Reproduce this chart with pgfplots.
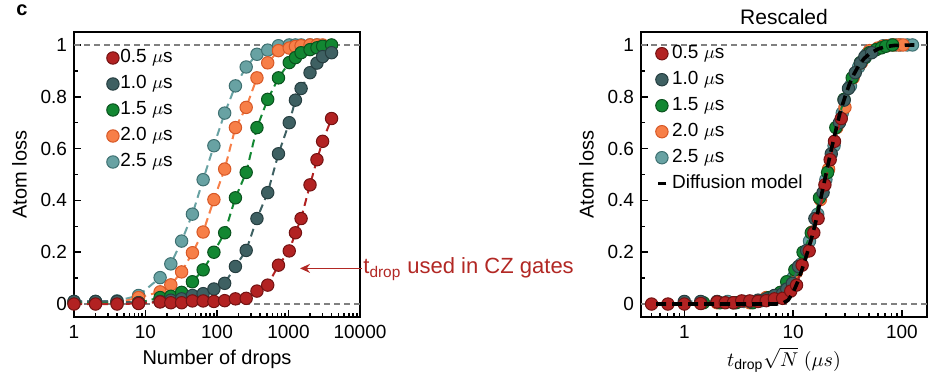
\documentclass[border=0pt]{standalone}
\usepackage{fontspec}
\setmainfont{Liberation Sans}
\usepackage{pgfplots}
\usepackage{pgfplotstable}
\pgfplotsset{compat=1.18}
\usetikzlibrary{arrows.meta}

\definecolor{cR}{RGB}{178,34,34}
\definecolor{cRe}{RGB}{115,18,18}
\definecolor{cD}{RGB}{62,96,98}
\definecolor{cDe}{RGB}{38,62,64}
\definecolor{cG}{RGB}{18,135,50}
\definecolor{cGe}{RGB}{10,82,30}
\definecolor{cO}{RGB}{247,127,72}
\definecolor{cOe}{RGB}{215,88,38}
\definecolor{cT}{RGB}{104,162,163}
\definecolor{cTe}{RGB}{62,112,113}
\definecolor{ann}{RGB}{178,40,36}
\definecolor{refgray}{RGB}{128,128,128}

% ---------- left panel data: N, atom loss ----------
\pgfplotstableread{
N v
1 0.0
2 0.0
4 0.0
8 0.002
16 0.008
22.6 0.005
32 0.005
45.3 0.012
64 0.012
90.5 0.01
128 0.013
181 0.02
256 0.022
362 0.05
512 0.073
724 0.15
1024 0.205
1250 0.275
1500 0.33
2000 0.46
2500 0.557
3000 0.628
4000 0.716
}\redL
\pgfplotstableread{
N v
1 0.01
2 0.01
4 0.01
8 0.005
16 0.01
22.6 0.015
32 0.02
45.3 0.033
64 0.04
90.5 0.058
128 0.08
181 0.145
256 0.207
362 0.33
512 0.43
724 0.58
1024 0.70
1250 0.787
1500 0.832
2000 0.893
2500 0.93
3000 0.955
4000 0.97
}\darkL
\pgfplotstableread{
N v
1 0.005
2 0.005
4 0.005
8 0.005
16 0.025
22.6 0.03
32 0.045
45.3 0.086
64 0.132
90.5 0.2
128 0.275
181 0.41
256 0.508
362 0.681
512 0.79
724 0.873
1024 0.932
1250 0.951
1500 0.97
2000 0.982
2500 0.989
3000 0.995
4000 1.0
}\greenL
\pgfplotstableread{
N v
1 0.005
2 0.005
4 0.005
8 0.025
16 0.047
22.6 0.074
32 0.124
45.3 0.198
64 0.278
90.5 0.403
128 0.521
181 0.681
256 0.759
362 0.873
512 0.931
724 0.978
1024 0.988
1250 0.994
1500 0.997
2000 1.0
2500 1.0
3000 1.0
}\orangeL
\pgfplotstableread{
N v
1 0.01
2 0.01
4 0.012
8 0.033
16 0.102
22.6 0.155
32 0.243
45.3 0.347
64 0.48
90.5 0.611
128 0.737
181 0.842
256 0.915
362 0.964
512 0.98
724 0.997
1024 1.0
1250 1.0
1500 1.0
2000 1.0
2500 1.0
}\tealL

% ---------- right panel data: rescaled x, atom loss ----------
\pgfplotstableread{
x v
0.5 0.0
0.707 0.0
1.0 0.0
1.414 0.002
2.0 0.008
2.378 0.005
2.828 0.005
3.364 0.012
4.0 0.012
4.757 0.01
5.657 0.013
6.727 0.02
8.0 0.022
9.514 0.05
10.75 0.073
12.1 0.15
14.05 0.205
15.49 0.275
16.96 0.33
19.59 0.46
21.9 0.557
23.99 0.628
27.7 0.716
}\redR
\pgfplotstableread{
x v
1 0.01
1.414 0.01
2 0.01
2.828 0.005
4 0.01
4.757 0.015
5.657 0.02
6.727 0.033
8 0.04
8.75 0.058
9.84 0.08
11.21 0.145
13.33 0.207
15.85 0.33
18.85 0.43
22.42 0.58
26.66 0.70
29.45 0.787
32.26 0.832
37.25 0.893
41.65 0.93
45.63 0.955
52.68 0.97
}\darkR
\pgfplotstableread{
x v
1.5 0.005
2.121 0.005
3.0 0.005
4.243 0.005
6.0 0.025
6.64 0.03
7.64 0.045
8.73 0.086
10.38 0.132
12.34 0.2
14.68 0.275
17.46 0.41
20.76 0.508
24.69 0.681
29.36 0.79
34.91 0.873
41.52 0.932
45.87 0.951
50.25 0.97
58.03 0.982
64.88 0.989
71.07 0.995
82.06 1.0
}\greenR
\pgfplotstableread{
x v
2 0.005
2.828 0.005
4 0.005
5.657 0.025
8 0.047
9.23 0.074
10.75 0.124
12.59 0.198
14.98 0.278
17.81 0.403
21.18 0.521
25.19 0.681
29.95 0.759
35.62 0.873
42.36 0.931
50.37 0.978
59.9 0.988
66.19 0.994
72.5 0.997
83.72 1.0
93.6 1.0
102.5 1.0
}\orangeR
\pgfplotstableread{
x v
2.5 0.01
3.536 0.01
5 0.012
7.071 0.033
10 0.102
11.89 0.155
14.14 0.243
16.82 0.347
20 0.48
23.78 0.611
28.28 0.737
33.63 0.842
40 0.915
47.57 0.964
56.57 0.98
67.27 0.997
80 1.0
88.39 1.0
96.82 1.0
111.8 1.0
125 1.0
}\tealR

\pgfplotsset{
  ser/.style 2 args={color=#1, line width=1pt, dash pattern=on 4pt off 2.5pt,
    mark=*, mark size=3.1pt, mark options={solid, fill=#1, draw=#2, line width=0.5pt}},
  panel/.style={
    scale only axis, width=143pt, height=142.5pt,
    ymin=-0.05, ymax=1.05,
    axis line style={line width=1pt},
    tick align=inside, xtick pos=bottom, ytick pos=left,
    tick style={black, line width=0.8pt},
    major tick length=3.5pt, minor tick length=2pt,
    ytick={0,0.2,0.4,0.6,0.8,1}, minor ytick={0.1,0.3,0.5,0.7,0.9},
    /pgf/number format/assume math mode=true,
    tick label style={font=\fontsize{9.5}{11}\selectfont},
    xticklabel style={yshift=-0.6pt},
    label style={font=\fontsize{11}{13}\selectfont},
    ylabel={Atom loss},
    every axis y label/.style={at={([xshift=-23.7pt]axis description cs:0,0.5)}, rotate=90, anchor=base},
    legend cell align=left,
    legend style={draw=none, fill=none, inner sep=0pt, row sep=2.8pt,
      font=\fontsize{9.5}{11}\selectfont,
      nodes={inner sep=0.6pt, text height=7pt, text depth=2pt}},
  },
}

\begin{document}
\begin{tikzpicture}
\useasboundingbox (0,0) rectangle (464.5pt,189pt);

% ================= left panel =================
\begin{semilogxaxis}[panel, at={(37pt,30.5pt)}, anchor=south west,
  xmin=1, xmax=10000,
  xtick={1,10,100,1000,10000}, xticklabels={1,10,100,1000,10000},
  minor xtick={2,3,4,5,6,7,8,9,20,30,40,50,60,70,80,90,200,300,400,500,600,700,800,900,2000,3000,4000,5000,6000,7000,8000,9000},
  xlabel={Number of drops},
  every axis x label/.style={at={([yshift=-23.8pt]axis description cs:0.5,0)}, anchor=base},
  legend image code/.code={\path[#1] plot coordinates {(3pt,0pt)};},
  legend style={at={(axis description cs:0.113,0.946)}, anchor=north west},
]
\addlegendimage{mark=*, mark size=3.1pt, mark options={solid, fill=cR, draw=cRe, line width=0.5pt}}\addlegendentry{0.5 $\mu$s}
\addlegendimage{mark=*, mark size=3.1pt, mark options={solid, fill=cD, draw=cDe, line width=0.5pt}}\addlegendentry{1.0 $\mu$s}
\addlegendimage{mark=*, mark size=3.1pt, mark options={solid, fill=cG, draw=cGe, line width=0.5pt}}\addlegendentry{1.5 $\mu$s}
\addlegendimage{mark=*, mark size=3.1pt, mark options={solid, fill=cO, draw=cOe, line width=0.5pt}}\addlegendentry{2.0 $\mu$s}
\addlegendimage{mark=*, mark size=3.1pt, mark options={solid, fill=cT, draw=cTe, line width=0.5pt}}\addlegendentry{2.5 $\mu$s}
\addplot[refgray, line width=0.6pt, dash pattern=on 3pt off 2pt, forget plot] coordinates {(1,0) (10000,0)};
\addplot[refgray, line width=0.6pt, dash pattern=on 3pt off 2pt, forget plot] coordinates {(1,1) (10000,1)};
\addplot[ser={cT}{cTe}, forget plot] table[x=N, y=v] {\tealL};
\addplot[ser={cO}{cOe}, forget plot] table[x=N, y=v] {\orangeL};
\addplot[ser={cG}{cGe}, forget plot] table[x=N, y=v] {\greenL};
\addplot[ser={cD}{cDe}, forget plot] table[x=N, y=v] {\darkL};
\addplot[ser={cR}{cRe}, forget plot] table[x=N, y=v] {\redL};
\end{semilogxaxis}

% ================= right panel =================
\begin{semilogxaxis}[panel, at={(320.5pt,30.5pt)}, anchor=south west,
  clip marker paths=true,
  xmin=0.4, xmax=170,
  xtick={1,10,100}, xticklabels={1,10,100},
  minor xtick={0.4,0.5,0.6,0.7,0.8,0.9,2,3,4,5,6,7,8,9,20,30,40,50,60,70,80,90},
  xlabel={$t_{\mathrm{drop}}\sqrt{N}\ (\mu s)$},
  every axis x label/.style={at={([yshift=-24.6pt]axis description cs:0.5,0)}, anchor=base},
  title={Rescaled},
  every axis title shift=0pt,
  title style={at={(axis description cs:0.5,1)}, anchor=base, yshift=3.8pt, font=\fontsize{10.5}{12}\selectfont},
  legend image code/.code={\path[#1] plot coordinates {(3pt,0pt)};},
  legend style={at={(axis description cs:0.050,0.961)}, anchor=north west,
    nodes={inner xsep=2pt}},
]
\addlegendimage{mark=*, mark size=3.1pt, mark options={solid, fill=cR, draw=cRe, line width=0.5pt}}\addlegendentry{0.5 $\mu$s}
\addlegendimage{mark=*, mark size=3.1pt, mark options={solid, fill=cD, draw=cDe, line width=0.5pt}}\addlegendentry{1.0 $\mu$s}
\addlegendimage{mark=*, mark size=3.1pt, mark options={solid, fill=cG, draw=cGe, line width=0.5pt}}\addlegendentry{1.5 $\mu$s}
\addlegendimage{mark=*, mark size=3.1pt, mark options={solid, fill=cO, draw=cOe, line width=0.5pt}}\addlegendentry{2.0 $\mu$s}
\addlegendimage{mark=*, mark size=3.1pt, mark options={solid, fill=cT, draw=cTe, line width=0.5pt}}\addlegendentry{2.5 $\mu$s}
\addlegendimage{mark=-, mark size=2.2pt, mark options={solid, draw=black, line width=1.6pt}}\addlegendentry{Diffusion model}
\addplot[refgray, line width=0.6pt, dash pattern=on 3pt off 2pt, forget plot] coordinates {(0.4,0) (170,0)};
\addplot[refgray, line width=0.6pt, dash pattern=on 3pt off 2pt, forget plot] coordinates {(0.4,1) (170,1)};
\addplot[ser={cT}{cTe}, forget plot] table[x=x, y=v] {\tealR};
\addplot[ser={cO}{cOe}, forget plot] table[x=x, y=v] {\orangeR};
\addplot[ser={cG}{cGe}, forget plot] table[x=x, y=v] {\greenR};
\addplot[ser={cD}{cDe}, forget plot] table[x=x, y=v] {\darkR};
\addplot[ser={cR}{cRe}, forget plot] table[x=x, y=v] {\redR};
% diffusion model curve
\addplot[draw=black, line width=1.8pt, dash pattern=on 5pt off 3pt, mark=none, forget plot] coordinates {
 (0.55,0) (2,0) (4,0) (7,0) (8,0.003) (9,0.015) (10,0.045) (11,0.085) (12,0.13) (13,0.175)
 (14,0.22) (15,0.265) (16,0.31) (18,0.41) (20,0.5) (22,0.58) (24,0.65) (27,0.74) (30,0.80)
 (33,0.85) (36,0.885) (40,0.92) (45,0.948) (50,0.965) (60,0.984) (70,0.993) (85,0.998) (130,1.0)};
\end{semilogxaxis}

% panel letter and annotation
\node[anchor=center, inner sep=0pt, font=\bfseries\fontsize{10}{12}\selectfont] at (11pt,184pt) {c};
\draw[ann, line width=0.8pt, -{Stealth[length=5pt,width=4.5pt]}] (181pt,54.8pt) -- (150pt,54.8pt);
\node[ann, anchor=base west, inner sep=0pt, font=\fontsize{11}{13}\selectfont] at (181.5pt,52pt) {t\textsubscript{drop} used in CZ gates};
\end{tikzpicture}
\end{document}
